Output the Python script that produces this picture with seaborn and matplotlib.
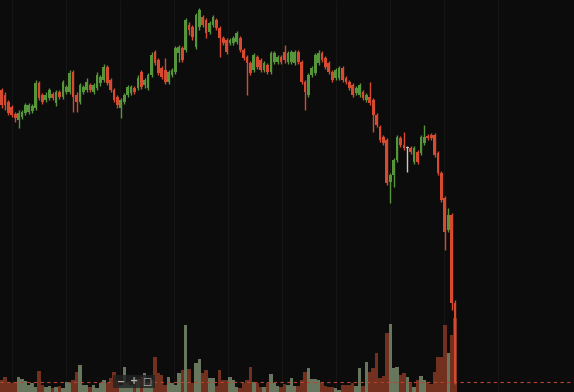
import numpy as np
import pandas as pd
import matplotlib.pyplot as plt
import seaborn as sns

# ---------------- data (price axis is unlabeled) ----------------
opens = [310, 305, 298, 293, 286, 280, 283, 287, 288, 289, 292, 317, 305, 300, 302, 306, 297, 308, 303, 308,
         308, 328, 305, 298, 308, 310, 315, 308, 312, 317, 320, 333, 320, 310, 303, 292, 298, 305, 307, 312,
         312, 328, 315, 312, 325, 348, 340, 332, 330, 318, 325, 328, 347, 352, 350, 375, 373, 353, 373, 383,
         380, 368, 375, 380, 372, 362, 360, 357, 357, 358, 362, 350, 343, 337, 330, 343, 340, 330, 335, 328,
         338, 338, 343, 348, 338, 338, 337, 348, 338, 318, 305, 325, 327, 337, 347, 342, 337, 328, 322, 322,
         332, 322, 318, 315, 307, 305, 308, 300, 303, 300, 285, 273, 263, 260, 218, 225, 240, 262, 255, 252,
         252, 238, 248, 247, 257, 264, 265, 265, 247, 227, 202, 170, 185, 97]
closes = [295, 295, 287, 285, 282, 287, 288, 295, 295, 294, 317, 302, 298, 305, 310, 302, 308, 303, 318, 313,
          327, 303, 298, 315, 313, 318, 310, 315, 325, 323, 333, 317, 310, 300, 295, 300, 305, 313, 313, 308,
          322, 313, 320, 325, 345, 337, 327, 323, 318, 328, 330, 352, 353, 340, 380, 370, 363, 385, 390, 375,
          367, 377, 383, 372, 362, 357, 348, 360, 362, 367, 350, 342, 337, 327, 345, 333, 330, 337, 328, 347,
          347, 343, 338, 340, 347, 348, 348, 338, 318, 308, 325, 332, 345, 347, 340, 333, 328, 320, 330, 332,
          320, 318, 312, 305, 312, 315, 302, 305, 297, 285, 275, 260, 257, 217, 225, 240, 263, 255, 252, 252,
          248, 252, 238, 263, 263, 262, 262, 245, 227, 200, 168, 185, 97, 18]
highs = [312, 308, 300, 295, 288, 290, 290, 297, 297, 296, 320, 319, 307, 308, 312, 308, 310, 310, 320, 315,
         330, 330, 308, 317, 315, 322, 317, 317, 328, 325, 336, 335, 322, 312, 305, 302, 307, 315, 315, 314,
         325, 330, 322, 327, 348, 350, 342, 334, 342, 330, 332, 354, 355, 354, 382, 378, 375, 387, 392, 385,
         382, 379, 385, 382, 374, 364, 362, 362, 364, 369, 364, 352, 345, 339, 347, 345, 342, 339, 337, 349,
         349, 345, 345, 355, 349, 350, 350, 350, 340, 320, 327, 334, 347, 350, 349, 344, 339, 330, 332, 334,
         334, 324, 320, 317, 314, 317, 310, 307, 318, 302, 287, 275, 265, 262, 227, 242, 265, 264, 268, 254,
         254, 254, 250, 265, 275, 266, 267, 267, 249, 229, 204, 192, 187, 100]
lows = [292, 290, 285, 283, 278, 272, 281, 285, 286, 287, 290, 300, 296, 298, 300, 300, 294, 301, 301, 306,
        306, 288, 288, 296, 306, 308, 308, 306, 310, 314, 318, 315, 308, 298, 292, 282, 296, 303, 305, 306,
        310, 311, 312, 310, 323, 335, 325, 321, 316, 316, 323, 326, 338, 338, 348, 365, 360, 351, 370, 373,
        362, 366, 373, 370, 343, 355, 346, 355, 355, 356, 348, 340, 305, 325, 328, 331, 328, 328, 326, 326,
        336, 336, 336, 337, 336, 336, 335, 336, 316, 290, 303, 323, 325, 335, 338, 331, 326, 318, 320, 320,
        318, 316, 310, 303, 305, 303, 300, 298, 295, 268, 273, 258, 255, 215, 197, 213, 238, 253, 250, 228,
        246, 236, 236, 245, 255, 260, 260, 243, 225, 198, 150, 168, 90, 16]
volumes = [12, 15, 10, 9, 10, 15, 13, 11, 7, 9, 5, 21, 7, 5, 6, 4, 5, 6, 4, 10,
           9, 12, 20, 27, 7, 7, 5, 7, 4, 9, 12, 9, 14, 20, 12, 7, 25, 9, 7, 15,
           13, 15, 19, 9, 12, 35, 19, 17, 7, 15, 9, 7, 19, 22, 67, 23, 9, 29,
           33, 19, 22, 14, 14, 6, 22, 12, 12, 15, 12, 5, 4, 9, 12, 25, 10, 9, 5, 5,
           9, 18, 9, 6, 5, 8, 7, 14, 6, 6, 12, 20, 24, 13, 13, 12, 9, 6, 5, 5,
           4, 2, 7, 7, 7, 9, 6, 24, 6, 30, 20, 24, 39, 14, 16, 59, 68, 24, 25,
           17, 19, 15, 10, 5, 12, 16, 12, 10, 8, 20, 35, 35, 67, 39, 57, 74]

UP = "#57953a"
DOWN = "#d64a30"
FLAT = "#c8c8c8"
VOL_UP = "#67765c"
VOL_DOWN = "#72301f"
BG = "#0c0c0c"

df = pd.DataFrame({"open": opens, "high": highs, "low": lows, "close": closes, "volume": volumes})
df["idx"] = np.arange(len(df))
df["dir"] = np.where(df["close"] >= df["open"], "up", "down")
df["color"] = np.select([df["close"] > df["open"], df["close"] < df["open"]], [UP, DOWN], FLAT)

# ---------------- figure ----------------
sns.set_style("dark", rc={"axes.facecolor": BG, "figure.facecolor": BG,
                          "grid.color": "#151515", "axes.grid": True})
fig = plt.figure(figsize=(5.74, 3.92), dpi=100)
ax_vol = fig.add_axes([0, 0, 1, 1])

step = 3.41  # pixels per candle
left = -1.5 / step

# volume bars
sns.barplot(data=df, x="idx", y="volume", hue="dir", palette={"up": VOL_UP, "down": VOL_DOWN},
            native_scale=True, width=1.0, dodge=False, legend=False, saturation=1,
            linewidth=0, ax=ax_vol, zorder=2)
ax_vol.set_ylim(0, 392)

# faint vertical grid
grid_px = np.arange(498, 0, -54)
ax_vol.set_xticks((grid_px - 1.5) / step)
ax_vol.set_yticks([])
ax_vol.grid(True, axis="x", color="#151515", linewidth=0.8)
ax_vol.set_xlim(left, left + 574 / step)

# candles
ax = ax_vol.twinx()
ax.set_facecolor("none")
ax.vlines(df["idx"], df["low"], df["high"], colors=df["color"], linewidth=1, zorder=3)
body_h = (df["close"] - df["open"]).abs().clip(lower=0.8)
ax.bar(df["idx"], body_h, bottom=df[["open", "close"]].min(axis=1), width=0.8,
       color=df["color"], linewidth=0, zorder=4)
ax.set_ylim(8, 400)
ax.set_yticks([])
ax.grid(False)

# last price line
ax.axhline(closes[-1], color="#b4452e", linestyle=(0, (3, 3)), linewidth=0.8, zorder=1)

for a in (ax, ax_vol):
    a.set_xlabel("")
    a.set_ylabel("")
    a.tick_params(length=0, labelbottom=False, labelleft=False, labelright=False)
    for s in a.spines.values():
        s.set_visible(False)

# zoom buttons
fig.patches.append(plt.Rectangle((113 / 574, 4 / 392), 42 / 574, 13 / 392, transform=fig.transFigure,
                                 facecolor="#222222", edgecolor="none", alpha=0.8, zorder=10))
for xp, t in [(121, "−"), (134, "+"), (147, "□")]:
    fig.text(xp / 574, 10.5 / 392, t, color="#b0b0b0", fontsize=7, ha="center", va="center",
             fontweight="bold", zorder=11)

plt.savefig("out.png", dpi=100, facecolor=BG)
